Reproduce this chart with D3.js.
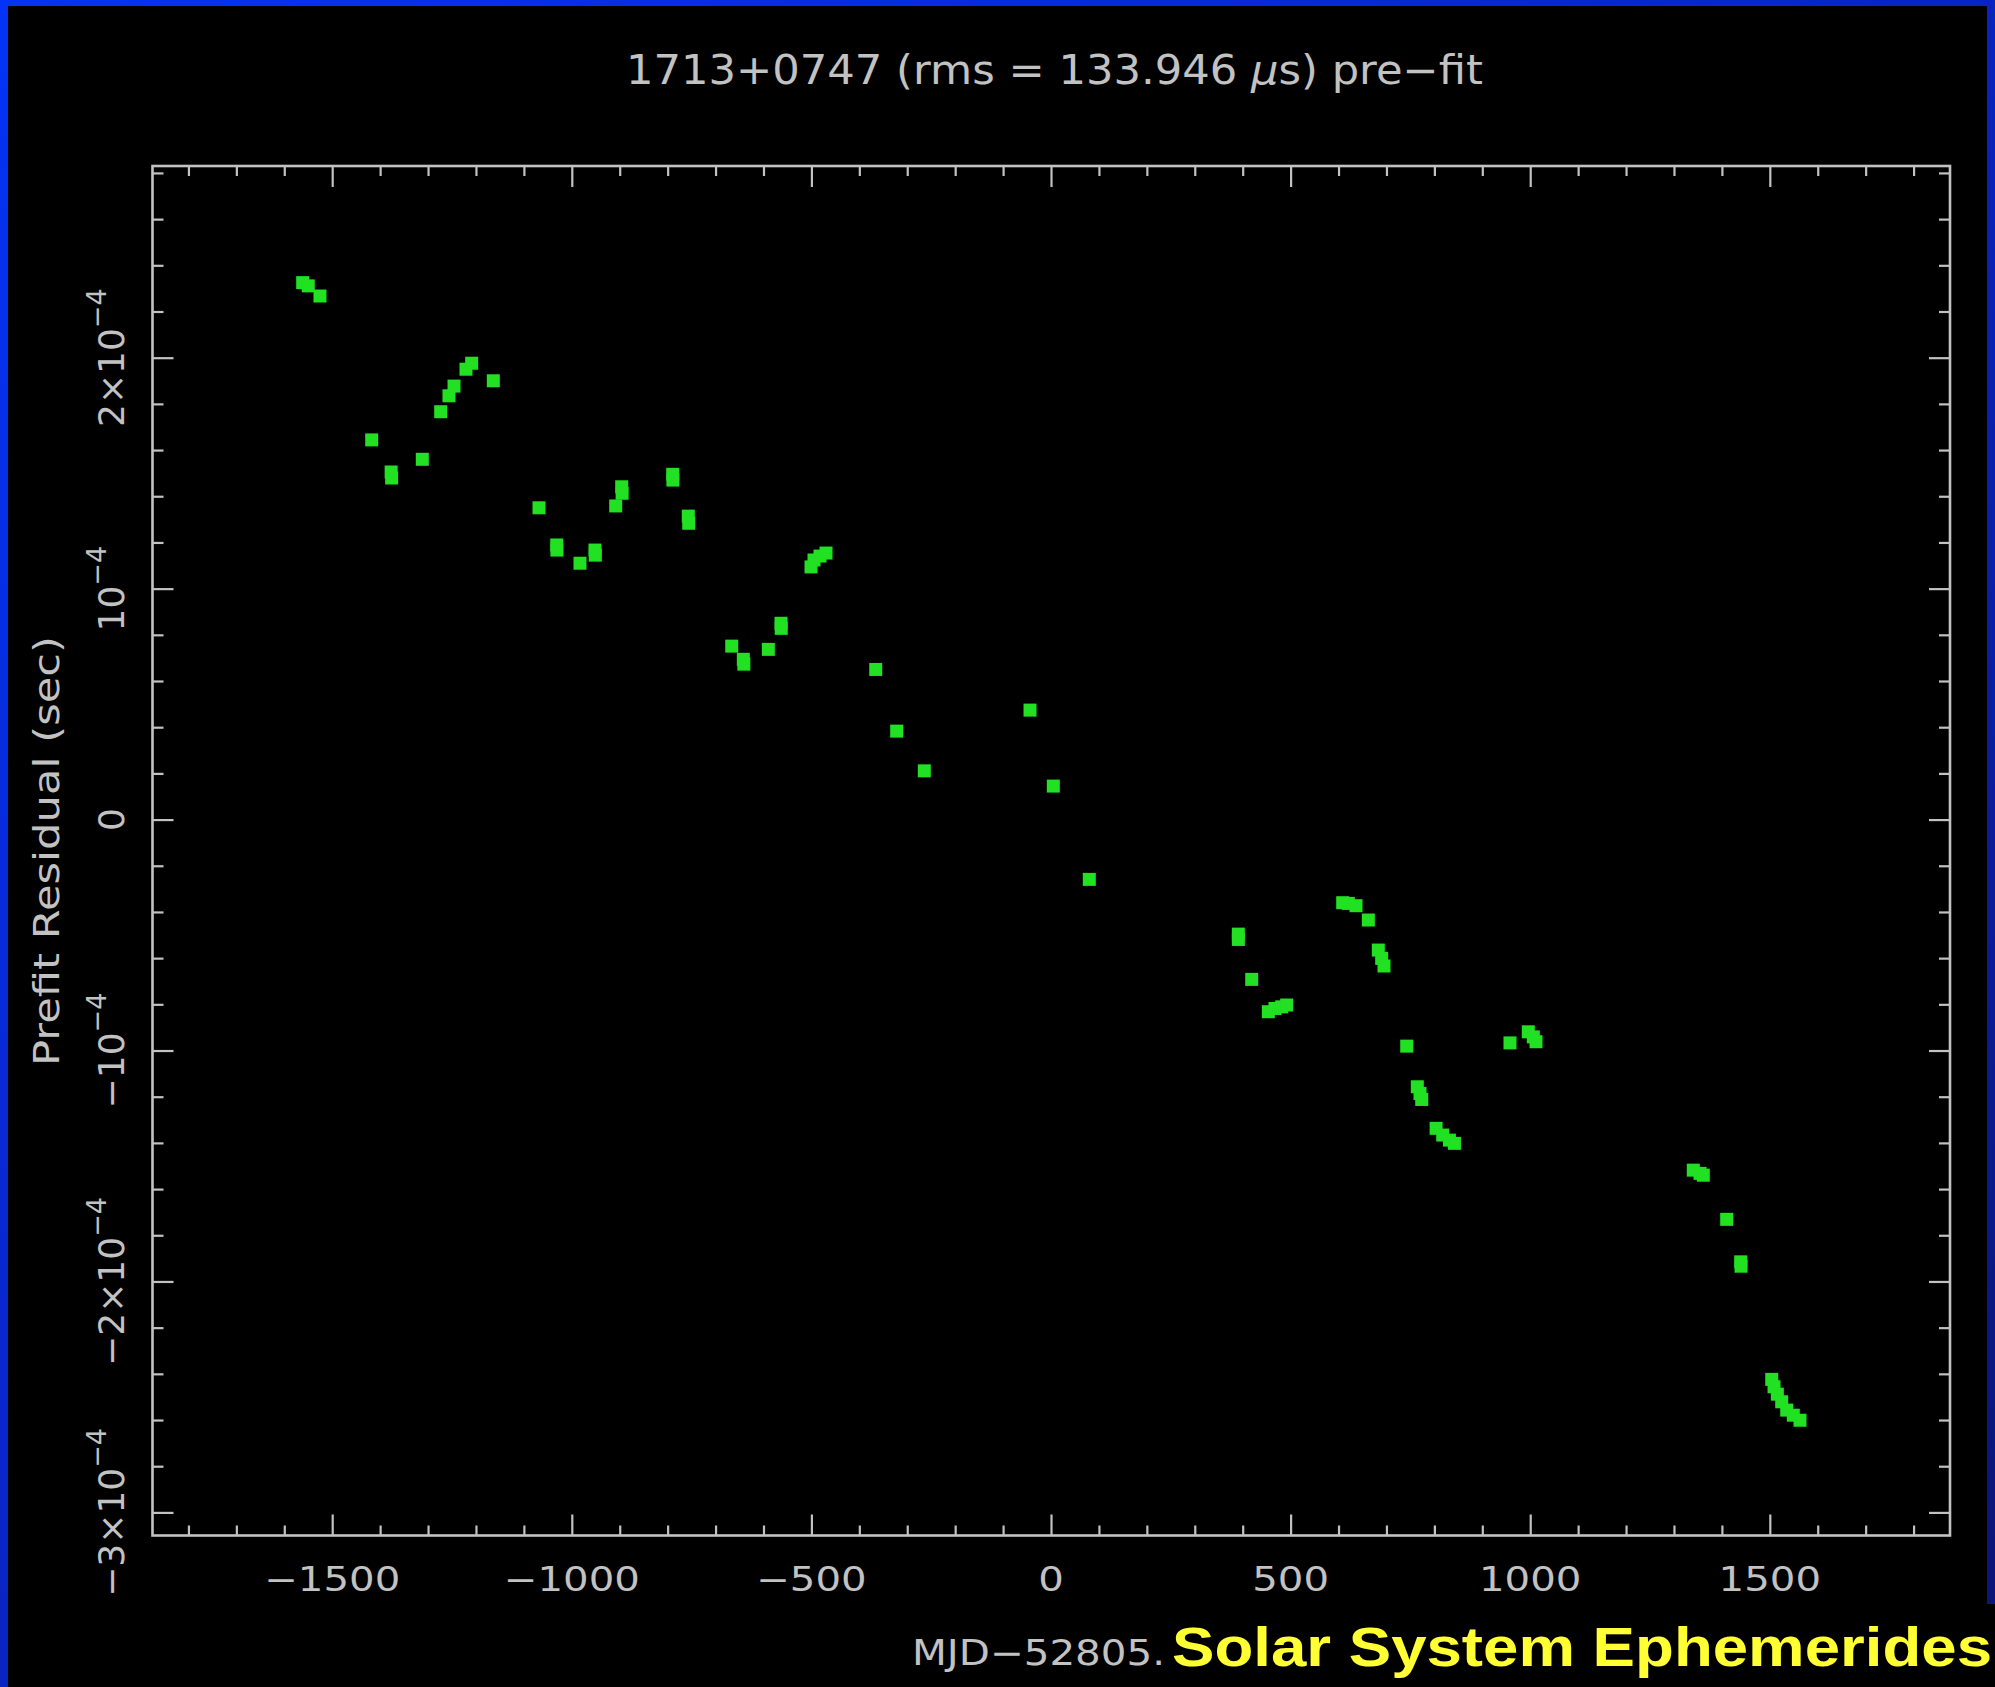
<!DOCTYPE html>
<html><head><meta charset="utf-8">
<script src="https://cdn.jsdelivr.net/npm/d3@7"></script>
<style>html,body{margin:0;padding:0;background:#000;overflow:hidden}</style>
</head><body><svg id="c" width="1995" height="1687"></svg>
<script>
// ---- data (MJD - 52805, prefit residual in seconds) ----
const mjd = [-1561.6,-1550,-1525.5,-1417.6,-1377,-1376,-1312,-1273.6,-1256.3,-1245.8,-1220.8,-1209,-1163.8,
  -1068.4,-1031.5,-1031,-982.9,-951.6,-951,-908.4,-895.9,-895,-789.4,-789,-756.9,-756,
  -666.3,-642.1,-641,-589.9,-563.4,-563,-500.8,-494.6,-482.1,-469.5,-365.8,-322,-264.4,
  -43.8,4.8,79.9,390.9,391,418.8,453.5,467.4,481.4,491.8,608.7,620.4,636.5,662.2,683.0,690.0,694.9,
  742.3,764.4,770.0,773.6,803.6,817.4,831.4,841.9,957.8,996,1006.5,1012.1,
  1340.3,1354.3,1361.2,1410,1439.3,1440,1504,1508.8,1515.7,1524.8,1535.3,1549,1563];
const residual = [2.325e-4,2.311e-4,2.267e-4,1.644e-4,1.505e-4,1.479e-4,1.560e-4,1.766e-4,1.835e-4,1.877e-4,1.950e-4,1.976e-4,1.900e-4,
  1.350e-4,1.189e-4,1.167e-4,1.110e-4,1.167e-4,1.145e-4,1.358e-4,1.441e-4,1.413e-4,1.495e-4,1.470e-4,1.314e-4,1.283e-4,
  0.751e-4,0.694e-4,0.673e-4,0.737e-4,0.850e-4,0.828e-4,1.094e-4,1.124e-4,1.141e-4,1.154e-4,0.650e-4,0.383e-4,0.211e-4,
  0.474e-4,0.145e-4,-0.259e-4,-0.496e-4,-0.519e-4,-0.692e-4,-0.832e-4,-0.818e-4,-0.811e-4,-0.803e-4,-0.360e-4,-0.363e-4,-0.373e-4,-0.435e-4,-0.565e-4,-0.601e-4,-0.634e-4,
  -0.981e-4,-1.157e-4,-1.186e-4,-1.212e-4,-1.337e-4,-1.366e-4,-1.388e-4,-1.402e-4,-0.967e-4,-0.919e-4,-0.941e-4,-0.962e-4,
  -1.518e-4,-1.532e-4,-1.540e-4,-1.731e-4,-1.915e-4,-1.934e-4,-2.424e-4,-2.456e-4,-2.488e-4,-2.521e-4,-2.557e-4,-2.579e-4,-2.601e-4];

const xDomain = [-1875, 1876];
const yDomain = [-3.10e-4, 2.83e-4];
const xMajorTicks = [-1500,-1000,-500,0,500,1000,1500];
const xTickLabels = ["−1500","−1000","−500","0","500","1000","1500"];
const xMinorStep = 100;
const yMajorTicks = [-3e-4,-2e-4,-1e-4,0,1e-4,2e-4];
const yTickMantissa = ["−3×10","−2×10","−10","0","10","2×10"];
const yTickExponent = ["−4","−4","−4","","−4","−4"];
const yMinorStep = 2e-5;
const titleMain = "1713+0747 (rms = 133.946 ";
const titleMu = "μ";
const titleEnd = "s) pre−fit";
const yTitle = "Prefit Residual (sec)";
const xTitle = "MJD−52805.";
const slideCaption = "Solar System Ephemerides";

// ---- drawing ----
const W = 1995, H = 1687;
const svg = d3.select("#c");
const defs = svg.append("defs");
const g1 = defs.append("linearGradient").attr("id","bg").attr("x1",0).attr("y1",0).attr("x2",1).attr("y2",1);
g1.append("stop").attr("offset","0%").attr("stop-color","#0433f5");
g1.append("stop").attr("offset","45%").attr("stop-color","#0a25c8");
g1.append("stop").attr("offset","100%").attr("stop-color","#0b1575");
svg.append("rect").attr("width",W).attr("height",H).attr("fill","url(#bg)");
svg.append("rect").attr("x",8).attr("y",6).attr("width",1979).attr("height",H-6).attr("fill","#000");
svg.append("rect").attr("x",1980).attr("y",1604).attr("width",20).attr("height",90).attr("fill","#000");

const L = 152.5, R = 1950, T = 166, B = 1535.5;
const x = d3.scaleLinear().domain(xDomain).range([L, R]);
const y = d3.scaleLinear().domain(yDomain).range([B, T]);

const fg = "#c2c2c2";
const font = "'DejaVu Sans', sans-serif";

const xMinor = d3.range(-1800, 1801, xMinorStep).filter(v => !xMajorTicks.includes(v));
const yMinor = d3.range(-30, 29, 2).map(v => v * 1e-5).filter(v => !yMajorTicks.some(m => Math.abs(m - v) < 1e-9));

function styleAxis(g){
  g.select(".domain").remove();
  g.selectAll("line").attr("stroke", fg).attr("stroke-width", 2.2);
  g.selectAll("text").remove();
}
// bottom / top
svg.append("g").attr("transform",`translate(0,${B})`).call(d3.axisBottom(x).tickValues(xMajorTicks).tickSize(-21)).call(styleAxis);
svg.append("g").attr("transform",`translate(0,${B})`).call(d3.axisBottom(x).tickValues(xMinor).tickSize(-10)).call(styleAxis);
svg.append("g").attr("transform",`translate(0,${T})`).call(d3.axisTop(x).tickValues(xMajorTicks).tickSize(-21)).call(styleAxis);
svg.append("g").attr("transform",`translate(0,${T})`).call(d3.axisTop(x).tickValues(xMinor).tickSize(-10)).call(styleAxis);
// left / right
svg.append("g").attr("transform",`translate(${L},0)`).call(d3.axisLeft(y).tickValues(yMajorTicks).tickSize(-21)).call(styleAxis);
svg.append("g").attr("transform",`translate(${L},0)`).call(d3.axisLeft(y).tickValues(yMinor).tickSize(-11)).call(styleAxis);
svg.append("g").attr("transform",`translate(${R},0)`).call(d3.axisRight(y).tickValues(yMajorTicks).tickSize(-21)).call(styleAxis);
svg.append("g").attr("transform",`translate(${R},0)`).call(d3.axisRight(y).tickValues(yMinor).tickSize(-11)).call(styleAxis);

svg.append("rect").attr("x",L).attr("y",T).attr("width",R-L).attr("height",B-T)
  .attr("fill","none").attr("stroke",fg).attr("stroke-width",2.6);

// x tick labels
svg.append("g").selectAll("text").data(xMajorTicks).join("text")
  .attr("transform", d => `translate(${x(d)},1591) scale(1.22,1)`)
  .attr("text-anchor","middle").attr("font-family",font).attr("font-size",33).attr("fill",fg)
  .text((d,i) => xTickLabels[i]);

// y tick labels (rotated)
const yl = svg.append("g").selectAll("text").data(yMajorTicks).join("text")
  .attr("transform", d => `translate(124,${y(d)}) rotate(-90)`)
  .attr("text-anchor","middle").attr("font-family",font).attr("font-size",36).attr("fill",fg);
yl.append("tspan").text((d,i) => yTickMantissa[i]);
yl.append("tspan").attr("font-size",27).attr("dy",-18).text((d,i) => yTickExponent[i]);

// titles
const tt = svg.append("text").attr("x",1054.5).attr("y",84).attr("text-anchor","middle")
  .attr("font-family",font).attr("font-size",40).attr("fill",fg)
  .attr("textLength",857).attr("lengthAdjust","spacingAndGlyphs");
tt.append("tspan").text(titleMain);
tt.append("tspan").attr("font-style","italic").text(titleMu);
tt.append("tspan").text(titleEnd);

svg.append("text").attr("transform","translate(59,851) rotate(-90)").attr("text-anchor","middle")
  .attr("font-family",font).attr("font-size",36).attr("fill",fg)
  .attr("textLength",430).attr("lengthAdjust","spacingAndGlyphs").text(yTitle);

svg.append("text").attr("x",912).attr("y",1665)
  .attr("font-family",font).attr("font-size",35).attr("fill",fg)
  .attr("textLength",253).attr("lengthAdjust","spacingAndGlyphs").text(xTitle);

// points
const ms = 13;
svg.append("g").selectAll("rect").data(mjd.map((m,i)=>[m,residual[i]])).join("rect")
  .attr("x", d => x(d[0]) - ms/2).attr("y", d => y(d[1]) - ms/2)
  .attr("width", ms).attr("height", ms).attr("fill","#22e022");

// slide caption
svg.append("text").attr("x",1172).attr("y",1666)
  .attr("font-family","'Liberation Sans', Arial, sans-serif").attr("font-weight","bold")
  .attr("font-size",56).attr("fill","#ffff33")
  .attr("textLength",820).attr("lengthAdjust","spacingAndGlyphs").text(slideCaption);
</script></body></html>
